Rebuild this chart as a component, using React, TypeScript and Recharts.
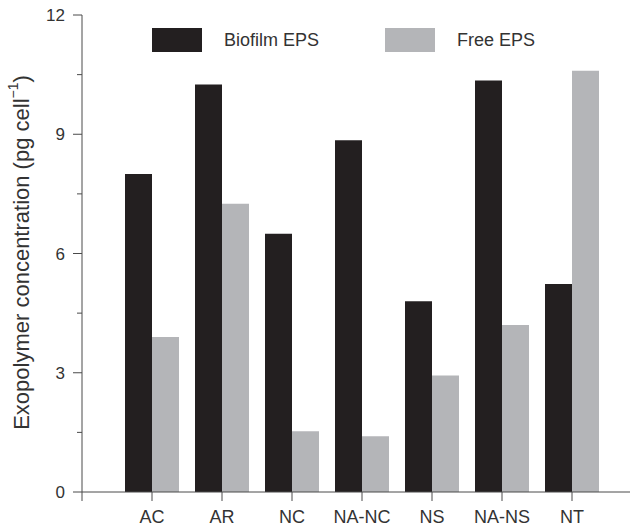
import { BarChart, Bar, XAxis, YAxis, Legend } from 'recharts';

const categories = ['AC', 'AR', 'NC', 'NA-NC', 'NS', 'NA-NS', 'NT'];
const biofilmEps = [8.0, 10.25, 6.5, 8.85, 4.8, 10.35, 5.23];
const freeEps = [3.9, 7.25, 1.53, 1.4, 2.93, 4.2, 10.6];
const yTicks = [0, 1.5, 3, 4.5, 6, 7.5, 9, 10.5, 12];

const data = categories.map((name, i) => ({
  name,
  biofilm: biofilmEps[i],
  free: freeEps[i],
}));

const FONT = '"Liberation Sans", Arial, Helvetica, sans-serif';
const TEXT = '#333333';
const AXIS = '#4a4a4a';
const DARK = '#231f20';
const LIGHT = '#b4b5b8';
const TICK_SIZE = 9;
const TICK_MARGIN = 8;

function YTick(props: any) {
  const { x, y, payload } = props;
  const axisX = x + TICK_MARGIN + TICK_SIZE;
  const major = payload.value % 3 === 0;
  const len = major ? TICK_SIZE : 5;
  return (
    <g>
      <line x1={axisX - len} y1={y} x2={axisX} y2={y} stroke={AXIS} strokeWidth={1} />
      {payload.value === 0 && (
        <line x1={axisX} y1={y} x2={axisX} y2={y + TICK_SIZE} stroke={AXIS} strokeWidth={1} />
      )}
      {major && (
        <text x={x} y={y} dy="0.355em" textAnchor="end" fontSize={17} fill={TEXT} fontFamily={FONT}>
          {payload.value}
        </text>
      )}
    </g>
  );
}

function YLabel(props: any) {
  const { viewBox } = props;
  const cx = viewBox.x + 21;
  const cy = viewBox.y + viewBox.height / 2 - 1;
  return (
    <text
      x={cx}
      y={cy}
      transform={`rotate(-90, ${cx}, ${cy})`}
      textAnchor="middle"
      dominantBaseline="central"
      fontSize={22}
      fill={TEXT}
      fontFamily={FONT}
    >
      Exopolymer concentration (pg cell
      <tspan dy={-8} fontSize={14}>−1</tspan>
      <tspan dy={8}>)</tspan>
    </text>
  );
}

function LegendBox(props: any) {
  const { payload } = props;
  return (
    <div style={{ display: 'flex', alignItems: 'center', fontFamily: FONT, fontSize: 18, color: TEXT }}>
      {payload.map((p: any, i: number) => (
        <div key={p.value} style={{ display: 'flex', alignItems: 'center', marginLeft: i === 0 ? 0 : 66 }}>
          <span style={{ display: 'inline-block', width: 50, height: 24, background: p.color }} />
          <span style={{ marginLeft: 22 }}>{p.value}</span>
        </div>
      ))}
    </div>
  );
}

export default function App() {
  return (
    <div style={{ position: 'absolute', left: 0, top: 0, width: 630, height: 526, background: '#fff' }}>
      <BarChart
        width={630}
        height={526}
        data={data}
        margin={{ top: 15, right: 0, bottom: 0, left: 0 }}
        barSize={27}
        barGap={0}
      >
        <XAxis
          dataKey="name"
          height={34}
          padding={{ left: 35, right: 23 }}
          tickSize={TICK_SIZE}
          tickMargin={9}
          axisLine={{ stroke: AXIS }}
          tickLine={{ stroke: AXIS }}
          tick={{ fontSize: 18, fill: TEXT, fontFamily: FONT }}
          interval={0}
        />
        <XAxis
          xAxisId="top"
          orientation="top"
          dataKey="name"
          height={0}
          tick={false}
          tickLine={false}
          axisLine={{ stroke: AXIS }}
        />
        <YAxis
          width={82}
          domain={[0, 12]}
          ticks={yTicks}
          interval={0}
          tickSize={TICK_SIZE}
          tickMargin={TICK_MARGIN}
          tickLine={false}
          axisLine={{ stroke: AXIS }}
          tick={<YTick />}
          label={<YLabel />}
        />
        <Legend
          layout="vertical"
          align="center"
          verticalAlign="middle"
          wrapperStyle={{ top: 28, left: 152, width: 'auto' }}
          content={<LegendBox />}
        />
        <Bar dataKey="biofilm" name="Biofilm EPS" fill={DARK} isAnimationActive={false} />
        <Bar dataKey="free" name="Free EPS" fill={LIGHT} isAnimationActive={false} />
      </BarChart>
    </div>
  );
}
